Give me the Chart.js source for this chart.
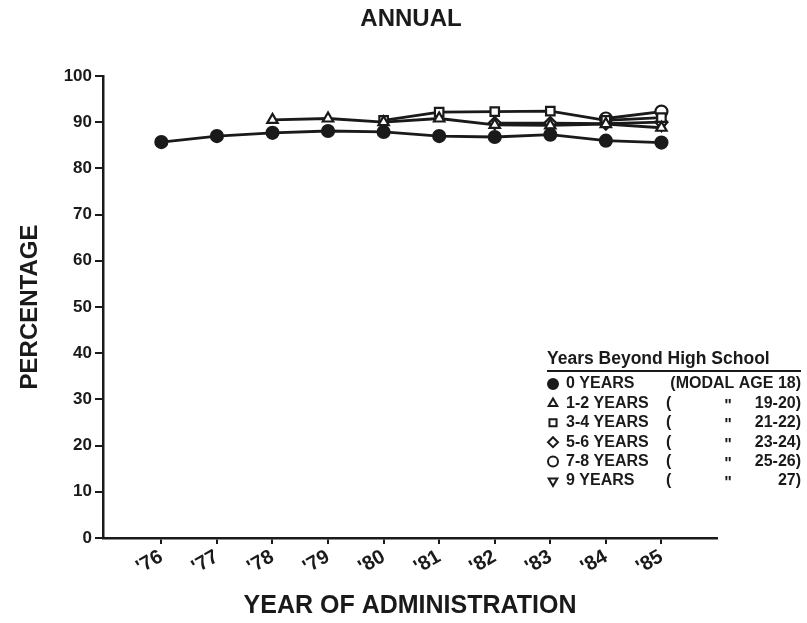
<!DOCTYPE html>
<html><head><meta charset="utf-8">
<style>html,body{margin:0;padding:0;background:#fff}#w{width:807px;height:623px}</style>
<script src="https://cdn.jsdelivr.net/npm/chart.js@4/dist/chart.umd.min.js"></script>
</head><body><div id="w"><canvas id="c" width="807" height="623"></canvas></div>
<script>
const years = [1976,1977,1978,1979,1980,1981,1982,1983,1984,1985];
const yearLabels = ["'76","'77","'78","'79","'80","'81","'82","'83","'84","'85"];
const yTickValues = [0,10,20,30,40,50,60,70,80,90,100];
const chartTitle = 'ANNUAL';
const seriesNames = ["0 YEARS","1-2 YEARS","3-4 YEARS","5-6 YEARS","7-8 YEARS","9 YEARS"];
const modalAges = ["(MODAL AGE 18)","19-20)","21-22)","23-24)","25-26)","27)"];
const beyond0 = [85.7,87.0,87.7,88.1,87.9,87.0,86.8,87.3,86.0,85.6];
const beyond1to2 = [null,null,90.5,90.8,90.0,90.8,89.4,89.3,89.6,88.8];
const beyond3to4 = [null,null,null,null,90.4,92.2,92.3,92.4,90.4,91.0];
const beyond5to6 = [null,null,null,null,null,null,89.8,89.8,89.7,90.0];
const beyond7to8 = [null,null,null,null,null,null,null,null,90.8,92.3];
const beyond9 = [null,null,null,null,null,null,null,null,null,89.4];

const F = "'Liberation Sans', Arial, sans-serif";
const ink = '#1a1a1a';
const styles = [
  {pointStyle:'circle', fill:ink, rotation:0},
  {pointStyle:'triangle', fill:'#fff', rotation:0},
  {pointStyle:'rect', fill:'#fff', rotation:0},
  {pointStyle:'rectRot', fill:'#fff', rotation:0},
  {pointStyle:'circle', fill:'#fff', rotation:0},
  {pointStyle:'triangle', fill:'#fff', rotation:180}
];
const seriesData = [beyond0,beyond1to2,beyond3to4,beyond5to6,beyond7to8,beyond9];

const datasets = seriesData.map((arr,i)=>({
  label: seriesNames[i],
  data: arr.map((v,j)=>({x:years[j], y:v})),
  borderColor: ink,
  borderWidth: 2.8,
  backgroundColor: styles[i].fill,
  pointStyle: styles[i].pointStyle,
  pointRotation: styles[i].rotation,
  pointRadius: 6,
  pointBorderWidth: 2.2,
  pointBorderColor: ink,
  pointBackgroundColor: styles[i].fill,
  spanGaps: false,
  tension: 0
}));

const legendPlugin = {
  id: 'customLegend',
  afterDraw(chart) {
    const ctx = chart.ctx;
    ctx.save();
    ctx.fillStyle = ink;
    ctx.textBaseline = 'middle';
    ctx.textAlign = 'center';
    ctx.font = "bold 24px " + F;
    ctx.fillText(chartTitle, 411, 19);
    ctx.textAlign = 'left';
    ctx.font = "bold 17.5px " + F;
    ctx.fillText('Years Beyond High School', 547, 359);
    ctx.strokeStyle = ink;
    ctx.lineWidth = 2;
    ctx.beginPath(); ctx.moveTo(547, 371); ctx.lineTo(801, 371); ctx.stroke();
    ctx.font = "bold 16px " + F;
    for (let i = 0; i < seriesNames.length; i++) {
      const y = 384 + i * 19.4;
      ctx.fillStyle = styles[i].fill; ctx.strokeStyle = ink; ctx.lineWidth = 2;
      Chart.helpers.drawPoint(ctx, {pointStyle: styles[i].pointStyle, radius: 5, rotation: styles[i].rotation, borderWidth: 2}, 553, y);
      ctx.fillStyle = ink;
      ctx.textAlign = 'left';
      ctx.fillText(seriesNames[i], 566, y);
      if (i === 0) {
        ctx.textAlign = 'right';
        ctx.fillText(modalAges[i], 801, y);
      } else {
        ctx.fillText('(', 666, y);
        ctx.textAlign = 'center';
        ctx.fillText('"', 728, y + 3);
        ctx.textAlign = 'right';
        ctx.fillText(modalAges[i], 801, y);
      }
    }
    ctx.restore();
  }
};

new Chart(document.getElementById('c'), {
  type: 'line',
  data: { datasets },
  options: {
    responsive: false,
    animation: false,
    layout: { padding: { left: 0, right: 90, top: 76, bottom: 0 } },
    plugins: {
      legend: { display: false },
      tooltip: { enabled: false },
      title: { display: false }
    },
    scales: {
      x: {
        type: 'linear',
        min: 1974.95, max: 1986,
        afterBuildTicks: s => { s.ticks = years.map(v => ({ value: v })); },
        afterFit: s => { s.height = 85; },
        ticks: {
          autoSkip: false, minRotation: 30, maxRotation: 30, color: ink, padding: 1,
          font: { family: F, size: 20, weight: 'bold' },
          callback: v => { const i = years.indexOf(v); return i >= 0 ? yearLabels[i] : ''; }
        },
        grid: { drawOnChartArea: false, drawTicks: true, tickLength: 6, color: ink, lineWidth: 2 },
        border: { display: true, color: ink, width: 2.5 },
        title: { display: true, text: 'YEAR OF ADMINISTRATION', color: ink, font: { family: F, size: 25, weight: 'bold' }, padding: { top: 0, bottom: 2 } }
      },
      y: {
        min: 0, max: 100,
        afterBuildTicks: s => { s.ticks = yTickValues.map(v => ({ value: v })); },
        afterFit: s => { s.width = 103; },
        ticks: { color: ink, padding: 3, font: { family: F, size: 17, weight: 'bold' } },
        grid: { drawOnChartArea: false, drawTicks: true, tickLength: 8, color: ink, lineWidth: 2 },
        border: { display: true, color: ink, width: 2.5 },
        title: { display: true, text: 'PERCENTAGE', color: ink, font: { family: F, size: 24, weight: 'bold' }, padding: { top: 16, bottom: 0 } }
      }
    }
  },
  plugins: [legendPlugin]
});
</script>
</body></html>
